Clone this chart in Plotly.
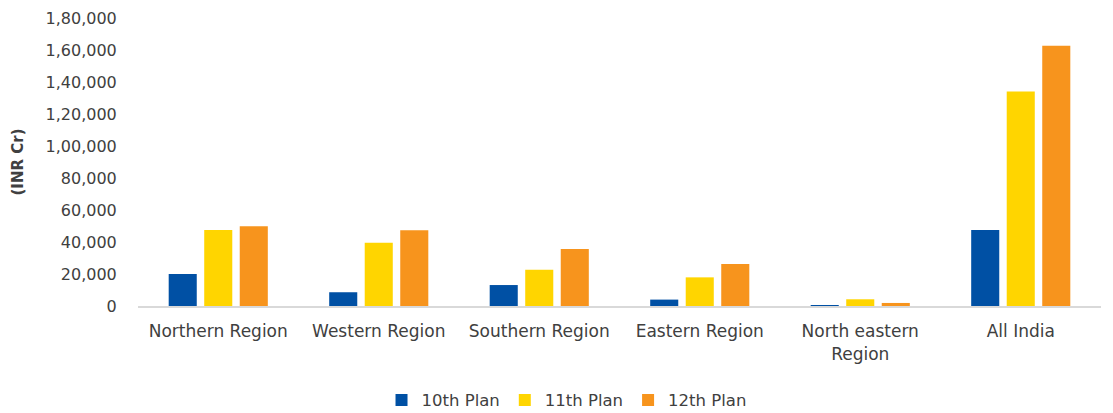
import plotly.graph_objects as go

regions = ["Northern Region", "Western Region", "Southern Region", "Eastern Region",
           "North eastern<br>Region", "All India"]
plan10 = [20000, 8600, 13100, 4000, 600, 47500]
plan11 = [47500, 39600, 22700, 17900, 4200, 134000]
plan12 = [49800, 47300, 35600, 26200, 1900, 162700]
series_names = ["10th Plan", "11th Plan", "12th Plan"]
colors = ["#0050A4", "#FFD500", "#F7941D"]
tick_vals = [0, 20000, 40000, 60000, 80000, 100000, 120000, 140000, 160000, 180000]
tick_text = ["0", "20,000", "40,000", "60,000", "80,000", "1,00,000", "1,20,000",
             "1,40,000", "1,60,000", "1,80,000"]

FONT = "DejaVu Sans, Verdana, sans-serif"
TXT = "#404040"

fig = go.Figure()
for name, vals, c in zip(series_names, [plan10, plan11, plan12], colors):
    fig.add_trace(go.Bar(x=regions, y=vals, name=name, marker=dict(color=c, line=dict(width=0))))

fig.update_layout(
    width=1113, height=413,
    margin=dict(l=138, r=12, t=18, b=107, autoexpand=False),
    paper_bgcolor="white", plot_bgcolor="white",
    barmode="group", bargap=0.336, bargroupgap=0.21,
    font=dict(family=FONT, size=16, color=TXT),
    showlegend=True,
    legend=dict(orientation="h", x=0.509, xref="container", xanchor="center",
                y=0.031, yref="container", yanchor="middle",
                font=dict(family=FONT, size=16.5, color=TXT), itemclick=False,
                traceorder="normal"),
    xaxis=dict(showline=True, linecolor="#D9D9D9", linewidth=2, showgrid=False,
               ticks="outside", ticklen=9, tickcolor="rgba(0,0,0,0)",
               tickfont=dict(family=FONT, size=17, color=TXT), automargin=False),
    yaxis=dict(range=[0, 180000], tickvals=tick_vals, ticktext=tick_text,
               showgrid=False, zeroline=False, showline=False,
               ticks="outside", ticklen=17, tickcolor="rgba(0,0,0,0)",
               tickfont=dict(family=FONT, size=16, color=TXT), automargin=False,
               title=dict(text="<b>(INR Cr)</b>", font=dict(family=FONT, size=15, color=TXT),
                          standoff=18)),
)

fig.write_html("out.html")
